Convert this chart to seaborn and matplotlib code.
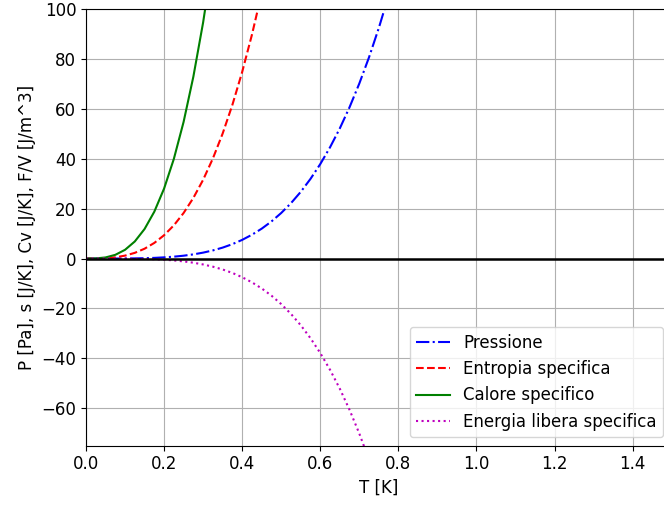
import numpy as np
import seaborn as sns
import matplotlib.pyplot as plt
import pandas as pd

# values
T = [0.0, 0.025, 0.05, 0.075, 0.1, 0.125, 0.15, 0.175, 0.2, 0.225, 0.25,
     0.275, 0.3, 0.325, 0.35, 0.375, 0.4, 0.425, 0.45, 0.475, 0.5, 0.525,
     0.55, 0.575, 0.6, 0.625, 0.65, 0.675, 0.7, 0.725, 0.75, 0.775, 0.8]

pressione = [0.0, 0.0001, 0.0018, 0.009, 0.029, 0.071, 0.15, 0.27, 0.47, 0.75,
             1.14, 1.67, 2.37, 3.26, 4.38, 5.77, 7.48, 9.53, 11.97, 14.86,
             18.25, 22.18, 26.72, 31.92, 37.84, 44.56, 52.12, 60.62, 70.11,
             80.67, 92.39, 105.3, 119.6]

entropia = [0.0, 0.018, 0.146, 0.49, 1.17, 2.28, 3.94, 6.26, 9.34, 13.3,
            18.25, 24.29, 31.54, 40.1, 50.08, 61.6, 74.75, 89.66, 106.4]

calore = [0.0, 0.055, 0.44, 1.48, 3.5, 6.84, 11.83, 18.78, 28.03, 39.91,
          54.75, 72.87, 94.6, 120.3]

energia_libera = [-v for v in pressione]

labels = ["Pressione", "Entropia specifica", "Calore specifico",
          "Energia libera specifica"]

plt.rcParams["font.size"] = 12

fig = plt.figure(figsize=(6.64, 5.05), dpi=100)
ax = fig.add_axes([0.1295, 0.1174, 0.882, 0.8648])

df_p = pd.DataFrame({"T": T, "v": pressione})
df_s = pd.DataFrame({"T": T[:len(entropia)], "v": entropia})
df_c = pd.DataFrame({"T": T[:len(calore)], "v": calore})
df_f = pd.DataFrame({"T": T, "v": energia_libera})

sns.lineplot(data=df_p, x="T", y="v", ax=ax, color="b", linestyle="-.", label=labels[0])
sns.lineplot(data=df_s, x="T", y="v", ax=ax, color="r", linestyle="--", label=labels[1])
sns.lineplot(data=df_c, x="T", y="v", ax=ax, color="g", linestyle="-", label=labels[2])
sns.lineplot(data=df_f, x="T", y="v", ax=ax, color="m", linestyle=":", label=labels[3])

ax.axhline(0, color="k", linewidth=1.8)
ax.set_xlim(0, 1.5)
ax.set_ylim(-75, 100)
ax.set_xticks(np.arange(0, 1.41, 0.2))
ax.set_xlabel("T [K]")
ax.set_ylabel("P [Pa], s [J/K], Cv [J/K], F/V [J/m^3]")
ax.grid(True)
ax.legend(loc="lower right")

fig.savefig("out.png", dpi=100)
